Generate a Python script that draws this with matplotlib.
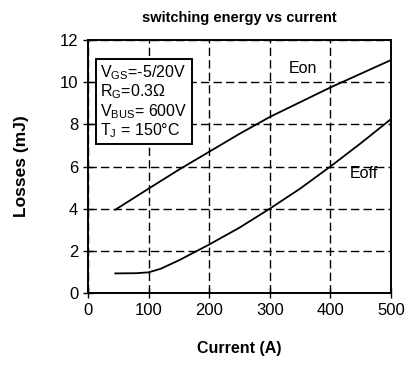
import matplotlib
matplotlib.use("Agg")
import matplotlib.pyplot as plt

plt.rcParams["font.family"] = ["Liberation Sans", "DejaVu Sans"]
plt.rcParams["mathtext.default"] = "regular"

current_on = [45, 100, 150, 200, 250, 300, 350, 400, 450, 500]
eon = [3.95, 4.95, 5.85, 6.7, 7.55, 8.35, 9.05, 9.75, 10.4, 11.05]

current_off = [45, 80, 100, 120, 150, 200, 250, 300, 350, 400, 450, 500]
eoff = [0.93, 0.94, 0.98, 1.15, 1.55, 2.3, 3.1, 4.0, 4.95, 6.0, 7.1, 8.25]

x_ticks = [0, 100, 200, 300, 400, 500]
y_ticks = [0, 2, 4, 6, 8, 10, 12]

conditions = "V$_{GS}$=-5/20V\nR$_{G}$=0.3Ω\nV$_{BUS}$= 600V\nT$_{J}$ = 150°C"

fig = plt.figure(figsize=(4.08, 3.67), dpi=100)
ax = fig.add_axes([0.2157, 0.2016, 0.7426, 0.6894])

ax.plot(current_on, eon, color="black", lw=1.3)
ax.plot(current_off, eoff, color="black", lw=1.3)

ax.set_xlim(0, 500)
ax.set_ylim(0, 12)
ax.set_xticks(x_ticks)
ax.set_yticks(y_ticks)
ax.tick_params(direction="inout", length=7, width=1, labelsize=12, color="black")
ax.grid(True, color="black", linestyle=(0, (6, 3)), linewidth=1)
for spine in ax.spines.values():
    spine.set_linewidth(1.4)
    spine.set_zorder(3)

ax.text(332, 10.45, "Eon", fontsize=11.5)
ax.text(432, 5.45, "Eoff", fontsize=11.5)
ax.text(20, 10.9, conditions, fontsize=11.5, va="top", ha="left", linespacing=1.05,
        bbox=dict(boxstyle="square,pad=0.25", facecolor="white", edgecolor="black", linewidth=1.4))

ax.set_title("switching energy vs current", fontsize=10.5, fontweight="bold", pad=13)
ax.set_xlabel("Current (A)", fontsize=11.5, fontweight="bold", labelpad=17)
ax.set_ylabel("Losses (mJ)", fontsize=12.5, fontweight="bold", labelpad=22)

fig.savefig("out.png", dpi=100)
